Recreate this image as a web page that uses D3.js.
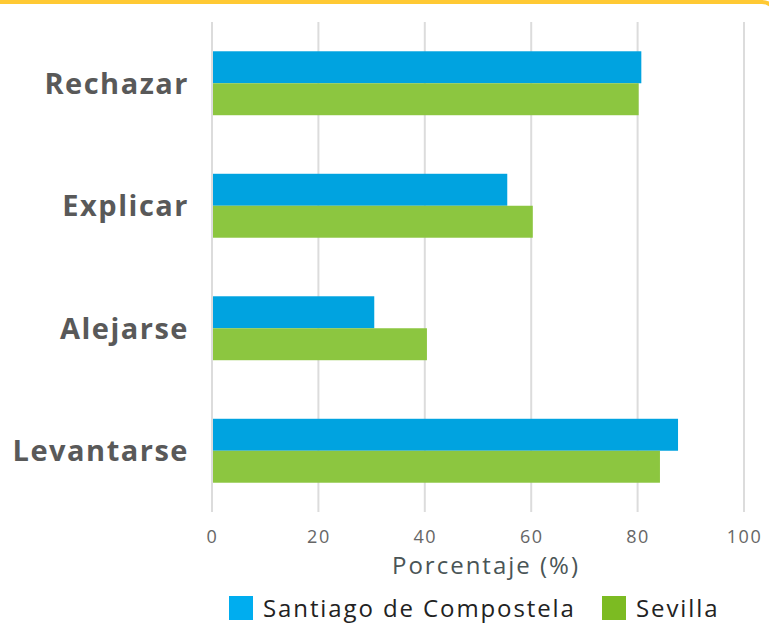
<!DOCTYPE html>
<html>
<head>
<meta charset="utf-8">
<script src="https://cdn.jsdelivr.net/npm/d3@7"></script>
<style>
  body { margin: 0; background: #fff; }
  svg { display: block; font-family: "Open Sans", sans-serif; }
</style>
</head>
<body>
<svg width="769" height="626"></svg>
<script>
// data
var categorias = ['Rechazar', 'Explicar', 'Alejarse', 'Levantarse'];
var santiago = [80.7, 55.5, 30.5, 87.6];
var sevilla = [80.2, 60.3, 40.4, 84.2];
var ticks = [0, 20, 40, 60, 80, 100];
var series = ['Santiago de Compostela', 'Sevilla'];

var svg = d3.select('svg');

// yellow card border on top
svg.append('rect').attr('x', -14).attr('y', 2).attr('width', 790).attr('height', 700)
  .attr('rx', 14).attr('fill', 'none').attr('stroke', '#ffc933').attr('stroke-width', 4);

var x = d3.scaleLinear().domain([0, 100]).range([212, 744]);
var y = d3.scaleBand().domain(categorias).range([22, 512]).paddingInner(0.478).paddingOuter(0.239);
var y2 = d3.scaleBand().domain(series).range([0, y.bandwidth()]);

// gridlines
svg.append('g').selectAll('line').data(ticks).join('line')
  .attr('x1', d => x(d)).attr('x2', d => x(d))
  .attr('y1', 22).attr('y2', 512)
  .attr('stroke', '#dcdcdc').attr('stroke-width', 2);

var barColor = { 'Santiago de Compostela': '#00a3e0', 'Sevilla': '#8cc640' };
var legColor = { 'Santiago de Compostela': '#00adef', 'Sevilla': '#7cbb22' };

var rows = [];
categorias.forEach(function (c, i) {
  rows.push({ cat: c, s: series[0], v: santiago[i] });
  rows.push({ cat: c, s: series[1], v: sevilla[i] });
});

svg.append('g').selectAll('rect').data(rows).join('rect')
  .attr('x', x(0) + 1)
  .attr('y', d => y(d.cat) + y2(d.s))
  .attr('width', d => x(d.v) - x(0) - 1)
  .attr('height', y2.bandwidth())
  .attr('fill', d => barColor[d.s]);

// category labels
svg.append('g').selectAll('text').data(categorias).join('text')
  .attr('x', 189).attr('y', d => y(d) + y.bandwidth() / 2)
  .attr('dy', '0.36em').attr('text-anchor', 'end')
  .attr('font-size', 29).attr('font-weight', 700).attr('letter-spacing', 1.5)
  .attr('fill', '#595959').text(d => d);

// x axis tick labels
var xAxis = d3.axisBottom(x).tickValues(ticks).tickSize(0).tickPadding(0);
var gx = svg.append('g').attr('transform', 'translate(0,530)').call(xAxis);
gx.select('.domain').remove();
gx.selectAll('text').attr('font-size', 18).attr('letter-spacing', 1.5)
  .attr('fill', '#666').attr('font-family', '"Open Sans", sans-serif');

svg.append('text').attr('x', 486).attr('y', 574).attr('text-anchor', 'middle')
  .attr('font-size', 24).attr('letter-spacing', 2).attr('fill', '#4a5556').text('Porcentaje (%)');

// legend
var legX = [229, 602];
var leg = svg.append('g').selectAll('g').data(series).join('g')
  .attr('transform', (d, i) => 'translate(' + legX[i] + ',596)');
leg.append('rect').attr('width', 24).attr('height', 24).attr('fill', d => legColor[d]);
leg.append('text').attr('x', 34).attr('y', 12).attr('dy', '0.36em')
  .attr('font-size', 24).attr('letter-spacing', 1.9).attr('fill', '#222').text(d => d);
</script>
</body>
</html>
